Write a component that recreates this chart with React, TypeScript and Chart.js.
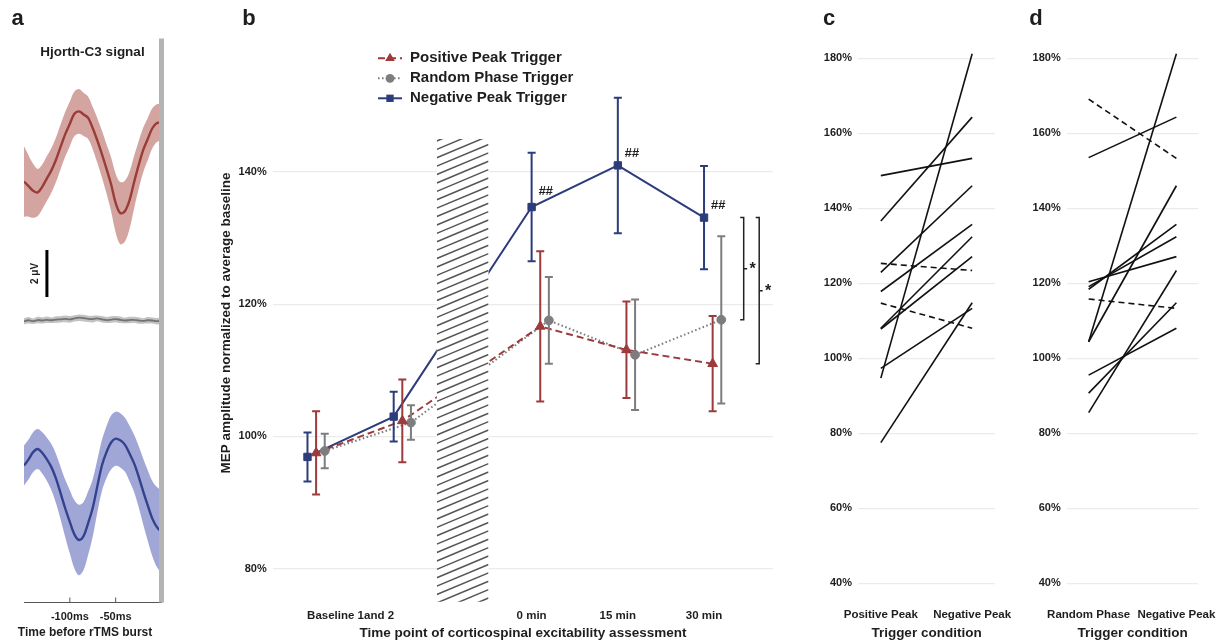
import React, { useEffect, useRef } from 'react';
import { Chart, registerables } from 'chart.js';

Chart.register(...registerables);

const W = 1225;
const H = 644;
const FONT = '"Liberation Sans", Arial, Helvetica, sans-serif';
const INK = '#1e1e1e';

// ---------------- Panel a: trigger-locked Hjorth-C3 EEG (µV) ----------------
const EEG_TIME_MS = [-150, -145, -140, -135, -130, -125, -120, -115, -110, -105, -100, -95, -90, -85, -80, -75, -70, -65, -60, -55, -50, -45, -40, -35, -30, -25, -20, -15, -10, -5, 0];
const EEG_TICKS_MS = [-100, -50];

const POS_TRIG_MEAN = [-1.09, -1.28, -1.48, -1.55, -1.3, -0.95, -0.6, -0.15, 0.4, 0.93, 1.37, 1.8, 1.9, 1.77, 1.62, 1.18, 0.66, 0.08, -0.55, -1.2, -2.0, -2.43, -2.35, -1.9, -1.13, -0.4, 0.25, 0.72, 1.18, 1.4, 1.43];
const POS_TRIG_SEM = [1.5, 1.3, 1.15, 1.0, 0.95, 0.95, 0.95, 0.95, 0.95, 0.95, 0.95, 0.95, 0.95, 0.92, 0.9, 0.9, 0.95, 1.0, 1.05, 1.15, 1.25, 1.32, 1.3, 1.22, 1.12, 1.02, 0.95, 0.9, 0.85, 0.8, 0.78];

const RAND_TRIG_MEAN = [-0.03, 0.01, -0.03, 0.02, 0.0, 0.03, 0.01, 0.04, 0.05, 0.07, 0.05, 0.09, 0.12, 0.1, 0.07, 0.06, 0.09, 0.05, 0.02, 0.04, 0.06, 0.03, 0.0, 0.02, 0.03, 0.0, -0.02, 0.01, 0.0, -0.03, -0.01];
const RAND_TRIG_SEM = [0.13, 0.14, 0.12, 0.14, 0.13, 0.14, 0.12, 0.14, 0.13, 0.14, 0.14, 0.13, 0.14, 0.14, 0.13, 0.14, 0.12, 0.14, 0.13, 0.14, 0.13, 0.14, 0.12, 0.14, 0.13, 0.14, 0.12, 0.14, 0.13, 0.14, 0.13];

const NEG_TRIG_MEAN = [1.03, 1.29, 1.6, 1.73, 1.56, 1.29, 0.95, 0.46, -0.16, -0.8, -1.37, -1.9, -2.14, -1.97, -1.42, -0.77, 0.15, 1.03, 1.6, 2.01, 2.17, 2.1, 1.92, 1.55, 1.13, 0.57, -0.07, -0.67, -1.23, -1.59, -1.8];
const NEG_TRIG_SEM = [0.85, 0.85, 0.85, 0.85, 0.88, 0.92, 0.98, 1.05, 1.12, 1.22, 1.35, 1.45, 1.5, 1.45, 1.35, 1.22, 1.12, 1.08, 1.1, 1.15, 1.15, 1.15, 1.15, 1.18, 1.22, 1.3, 1.4, 1.5, 1.6, 1.7, 1.75];

// vertical display offsets (µV) that stack the three averages
const POS_TRACE_OFFSET = 7;
const RAND_TRACE_OFFSET = 0;
const NEG_TRACE_OFFSET = -7.2;
const SCALE_BAR_UV = 2;
const SCALE_BAR_AT = { t: -125, from: 1 };

// ---------------- Panel b: MEP amplitude over time (% of baseline) ----------------
const MEP_POSITIONS = [1, 2, 3.6, 4.6, 5.6]; // Baseline 1, Baseline 2, 0, 15, 30 min
const MEP_TICK_POSITIONS = [1.5, 3.6, 4.6, 5.6];
const MEP_TICK_LABELS = ['Baseline 1and 2', '0 min', '15 min', '30 min'];
const MEP_Y_TICKS = [80, 100, 120, 140];

const POS_MEP_MEAN = [97.5, 102.35, 116.65, 113.1, 111.0];
const POS_MEP_ERR = [6.3, 6.25, 11.35, 7.3, 7.2];
const RAND_MEP_MEAN = [97.8, 102.1, 117.55, 112.35, 117.65];
const RAND_MEP_ERR = [2.6, 2.6, 6.55, 8.35, 12.65];
const NEG_MEP_MEAN = [96.9, 103.0, 134.7, 141.0, 133.1];
const NEG_MEP_ERR = [3.7, 3.75, 8.2, 10.25, 7.8];
const NEG_MEP_MARKS = ['', '', '##', '##', '##'];

const RTMS_BLOCK_X = [2.5, 3.1];
const RTMS_BLOCK_Y = [75, 145];

// ---------------- Panels c, d: single subjects (% of baseline) ----------------
const SUBJ_POS_PEAK = [94.7, 136.6, 148.7, 122.9, 117.8, 108.0, 107.8, 125.3, 77.5, 97.3, 114.7];
const SUBJ_RAND_PHASE = [104.4, 153.5, 169.1, 104.4, 118.4, 119.1, 120.4, 85.5, 90.7, 115.8, 95.5];
const SUBJ_NEG_PEAK = [181.2, 164.3, 153.3, 146.0, 135.7, 132.4, 127.1, 123.4, 114.8, 113.3, 108.0];
const SUBJ_Y_TICKS = [40, 60, 80, 100, 120, 140, 160, 180];

// ---------------- drawing helpers ----------------
type TextOpts = {
  align?: CanvasTextAlign;
  baseline?: CanvasTextBaseline;
  rotate?: number;
  style?: string;
  color?: string;
};

function drawText(ctx: CanvasRenderingContext2D, s: string, x: number, y: number, size: number, o: TextOpts = {}) {
  ctx.save();
  ctx.font = `${o.style ?? ''} bold ${size}px ${FONT}`;
  ctx.fillStyle = o.color ?? INK;
  ctx.textAlign = o.align ?? 'center';
  ctx.textBaseline = o.baseline ?? 'middle';
  ctx.translate(x, y);
  if (o.rotate) ctx.rotate(o.rotate);
  ctx.fillText(s, 0, 0);
  ctx.restore();
}

function drawMarker(ctx: CanvasRenderingContext2D, style: string, x: number, y: number, r: number, color: string) {
  ctx.save();
  ctx.fillStyle = color;
  ctx.beginPath();
  if (style === 'rect') {
    const s = r * Math.SQRT1_2;
    ctx.rect(x - s, y - s, 2 * s, 2 * s);
  } else if (style === 'triangle') {
    ctx.moveTo(x, y - r);
    ctx.lineTo(x + 0.866 * r, y + 0.5 * r);
    ctx.lineTo(x - 0.866 * r, y + 0.5 * r);
    ctx.closePath();
  } else {
    ctx.arc(x, y, r, 0, Math.PI * 2);
  }
  ctx.fill();
  ctx.restore();
}

function baseOptions(padding: { left: number; right: number; top: number; bottom: number }) {
  return {
    responsive: false,
    maintainAspectRatio: false,
    animation: false,
    devicePixelRatio: 1,
    events: [],
    layout: { padding, autoPadding: false },
    plugins: { legend: { display: false }, tooltip: { enabled: false }, title: { display: false } },
  };
}

const tickFont = (size: number) => ({ family: FONT, size, weight: 'bold' as const });

// ---------------- Panel a ----------------
function buildPanelA(): any {
  const area = { left: 24, right: 161.5, top: 38.5, bottom: 602.5 };
  const xAxisH = 24;
  const traces = [
    { mean: POS_TRIG_MEAN, sem: POS_TRIG_SEM, offset: POS_TRACE_OFFSET, band: 'rgba(170,75,65,0.5)', line: '#8a2c2c', width: 2.4 },
    { mean: RAND_TRIG_MEAN, sem: RAND_TRIG_SEM, offset: RAND_TRACE_OFFSET, band: 'rgba(120,120,120,0.45)', line: '#6f6f6f', width: 1.8 },
    { mean: NEG_TRIG_MEAN, sem: NEG_TRIG_SEM, offset: NEG_TRACE_OFFSET, band: 'rgba(65,80,175,0.5)', line: '#26326c', width: 2.4 },
  ];
  const datasets = traces.flatMap((tr) => {
    const pts = (k: number) => EEG_TIME_MS.map((t, i) => ({ x: t, y: tr.offset + tr.mean[i] + k * tr.sem[i] }));
    return [
      { data: pts(1), borderWidth: 0, pointRadius: 0, fill: '+1', backgroundColor: tr.band, tension: 0.35 },
      { data: pts(-1), borderWidth: 0, pointRadius: 0, fill: false, tension: 0.35 },
      { data: pts(0), borderColor: tr.line, borderWidth: tr.width, pointRadius: 0, fill: false, tension: 0.35 },
    ];
  });

  const overlay = {
    id: 'panelA',
    afterDatasetsDraw(chart: any) {
      const { ctx, chartArea: ca } = chart;
      const xs = chart.scales.x;
      const ys = chart.scales.y;
      // stimulation onset marker at 0 ms
      const x0 = xs.getPixelForValue(0);
      ctx.save();
      ctx.fillStyle = '#b4b4b4';
      ctx.fillRect(x0 - 2.5, ca.top, 5, ca.bottom - ca.top);
      // inward tick marks
      ctx.strokeStyle = '#555';
      ctx.lineWidth = 1;
      EEG_TICKS_MS.forEach((v) => {
        const px = xs.getPixelForValue(v);
        ctx.beginPath();
        ctx.moveTo(px, ca.bottom);
        ctx.lineTo(px, ca.bottom - 5);
        ctx.stroke();
      });
      // amplitude scale bar
      const sx = xs.getPixelForValue(SCALE_BAR_AT.t);
      ctx.strokeStyle = '#000';
      ctx.lineWidth = 3;
      ctx.beginPath();
      ctx.moveTo(sx, ys.getPixelForValue(SCALE_BAR_AT.from));
      ctx.lineTo(sx, ys.getPixelForValue(SCALE_BAR_AT.from + SCALE_BAR_UV));
      ctx.stroke();
      ctx.restore();
      const midY = (ys.getPixelForValue(SCALE_BAR_AT.from) + ys.getPixelForValue(SCALE_BAR_AT.from + SCALE_BAR_UV)) / 2;
      drawText(ctx, `${SCALE_BAR_UV} μV`, sx - 12, midY, 10, { rotate: -Math.PI / 2 });
      drawText(ctx, 'Hjorth-C3 signal', 92.5, 52.5, 13.5);
      drawText(ctx, 'Time before rTMS burst', 85, 633, 12);
      drawText(ctx, 'a', 17.5, 25, 22, { baseline: 'alphabetic' });
    },
  };

  return {
    type: 'line',
    data: { datasets },
    options: {
      ...baseOptions({ left: area.left, right: W - area.right, top: area.top, bottom: H - area.bottom - xAxisH }),
      scales: {
        x: {
          type: 'linear',
          min: -150,
          max: 0,
          afterBuildTicks: (s: any) => {
            s.ticks = EEG_TICKS_MS.map((v) => ({ value: v }));
          },
          afterFit: (s: any) => {
            s.height = xAxisH;
          },
          ticks: { callback: (v: any) => `${v}ms`, font: tickFont(11), color: INK, padding: 7.5, maxRotation: 0, autoSkip: false },
          grid: { display: false, drawTicks: false },
          border: { display: true, color: '#555', width: 1 },
        },
        y: { type: 'linear', min: -12, max: 12, display: false },
      },
    },
    plugins: [overlay],
  };
}

// ---------------- Panel b ----------------
function buildPanelB(): any {
  const area = { left: 273, right: 773, top: 39.8, bottom: 601.7 };
  const yAxisW = 40;
  const xAxisH = 24;
  const series = [
    { label: 'Positive Peak Trigger', mean: POS_MEP_MEAN, err: POS_MEP_ERR, shift: 0.1, color: '#9d3a3b', dash: [7, 4], point: 'triangle', radius: 5.6 },
    { label: 'Random Phase Trigger', mean: RAND_MEP_MEAN, err: RAND_MEP_ERR, shift: 0.2, color: '#7d7d7f', dash: [1.6, 2.4], point: 'circle', radius: 4.4 },
    { label: 'Negative Peak Trigger', mean: NEG_MEP_MEAN, err: NEG_MEP_ERR, shift: 0, color: '#2d3c7a', dash: [], point: 'rect', radius: 5.2 },
  ];
  const pts = (s: any) => MEP_POSITIONS.map((p, i) => ({ x: p + s.shift, y: s.mean[i] }));
  const lineSets = series.map((s) => ({
    data: pts(s),
    borderColor: s.color,
    borderWidth: 2,
    borderDash: s.dash,
    pointRadius: 0,
    fill: false,
    order: 2,
  }));
  const markerSets = series.map((s) => ({
    data: pts(s),
    showLine: false,
    pointStyle: s.point,
    pointRadius: s.radius,
    pointBackgroundColor: s.color,
    pointBorderColor: s.color,
    pointBorderWidth: 1,
    order: 1,
    isMarker: true,
  }));

  const brackets = [
    { from: NEG_MEP_MEAN[4], to: RAND_MEP_MEAN[4], x: 6.06, mark: '*' },
    { from: NEG_MEP_MEAN[4], to: POS_MEP_MEAN[4], x: 6.24, mark: '*' },
  ];

  const overlay = {
    id: 'panelB',
    beforeDatasetsDraw(chart: any) {
      chart.$overlayDone = false;
    },
    beforeDatasetDraw(chart: any, args: any) {
      const ds = chart.data.datasets[args.index];
      if (!ds.isMarker || chart.$overlayDone) return;
      chart.$overlayDone = true;
      const { ctx } = chart;
      const xs = chart.scales.x;
      const ys = chart.scales.y;
      // hatched rTMS block, covering the connecting lines
      const x0 = xs.getPixelForValue(RTMS_BLOCK_X[0]);
      const x1 = xs.getPixelForValue(RTMS_BLOCK_X[1]);
      const y0 = ys.getPixelForValue(RTMS_BLOCK_Y[1]);
      const y1 = ys.getPixelForValue(RTMS_BLOCK_Y[0]);
      ctx.save();
      ctx.fillStyle = '#fff';
      ctx.fillRect(x0, y0, x1 - x0, y1 - y0);
      ctx.beginPath();
      ctx.rect(x0, y0, x1 - x0, y1 - y0);
      ctx.clip();
      ctx.strokeStyle = '#555';
      ctx.lineWidth = 1.5;
      const rise = (x1 - x0) * 0.42;
      for (let yy = y0 + 2; yy < y1 + rise + 9; yy += 8.4) {
        ctx.beginPath();
        ctx.moveTo(x0, yy);
        ctx.lineTo(x1, yy - rise);
        ctx.stroke();
      }
      ctx.restore();
      // error bars
      ctx.save();
      ctx.lineWidth = 2;
      series.forEach((s) => {
        ctx.strokeStyle = s.color;
        MEP_POSITIONS.forEach((p, i) => {
          const px = xs.getPixelForValue(p + s.shift);
          const yt = ys.getPixelForValue(s.mean[i] + s.err[i]);
          const yb = ys.getPixelForValue(s.mean[i] - s.err[i]);
          ctx.beginPath();
          ctx.moveTo(px, yt);
          ctx.lineTo(px, yb);
          ctx.moveTo(px - 4, yt);
          ctx.lineTo(px + 4, yt);
          ctx.moveTo(px - 4, yb);
          ctx.lineTo(px + 4, yb);
          ctx.stroke();
        });
      });
      ctx.restore();
    },
    afterDatasetsDraw(chart: any) {
      const { ctx } = chart;
      const xs = chart.scales.x;
      const ys = chart.scales.y;
      // significance vs. baseline
      MEP_POSITIONS.forEach((p, i) => {
        if (!NEG_MEP_MARKS[i]) return;
        const px = xs.getPixelForValue(p);
        const py = ys.getPixelForValue(NEG_MEP_MEAN[i]);
        drawText(ctx, NEG_MEP_MARKS[i], px + 14, py - (i === 2 ? 16 : 12), 13, { style: 'italic' });
      });
      // between-condition brackets at 30 min
      ctx.save();
      ctx.strokeStyle = '#222';
      ctx.lineWidth = 1.5;
      brackets.forEach((b) => {
        const bx = xs.getPixelForValue(b.x);
        const ya = ys.getPixelForValue(b.from);
        const yb = ys.getPixelForValue(b.to);
        const ym = (ya + yb) / 2;
        ctx.beginPath();
        ctx.moveTo(bx - 3.5, ya);
        ctx.lineTo(bx, ya);
        ctx.lineTo(bx, yb);
        ctx.lineTo(bx - 3.5, yb);
        ctx.moveTo(bx, ym);
        ctx.lineTo(bx + 3.5, ym);
        ctx.stroke();
        drawText(ctx, b.mark, bx + 9, ym + 5, 16, { baseline: 'alphabetic' });
      });
      ctx.restore();
      // legend
      series.forEach((s, i) => {
        const ly = 58.3 + 20 * i;
        ctx.save();
        ctx.strokeStyle = s.color;
        ctx.lineWidth = 2;
        ctx.setLineDash(s.dash);
        ctx.beginPath();
        ctx.moveTo(378, ly);
        ctx.lineTo(402, ly);
        ctx.stroke();
        ctx.restore();
        drawMarker(ctx, s.point, 390, ly, s.radius, s.color);
        drawText(ctx, s.label, 410, ly, 15, { align: 'left' });
      });
      drawText(ctx, 'MEP amplitude normalized to average baseline', 226.7, 323, 13.5, { rotate: -Math.PI / 2 });
      drawText(ctx, 'Time point of corticospinal excitability assessment', 523, 633, 13.5);
      drawText(ctx, 'b', 249, 25, 22, { baseline: 'alphabetic' });
    },
  };

  return {
    type: 'line',
    data: { datasets: [...lineSets, ...markerSets] },
    options: {
      ...baseOptions({ left: area.left - yAxisW, right: W - area.right, top: area.top, bottom: H - area.bottom - xAxisH }),
      scales: {
        x: {
          type: 'linear',
          min: 0.6,
          max: 6.4,
          afterBuildTicks: (s: any) => {
            s.ticks = MEP_TICK_POSITIONS.map((v) => ({ value: v }));
          },
          afterFit: (s: any) => {
            s.height = xAxisH;
          },
          ticks: { callback: (_v: any, i: number) => MEP_TICK_LABELS[i], font: tickFont(11.5), color: INK, padding: 7, maxRotation: 0, autoSkip: false },
          grid: { display: false, drawTicks: false },
          border: { display: false },
        },
        y: {
          type: 'linear',
          min: 75,
          max: 160,
          afterBuildTicks: (s: any) => {
            s.ticks = MEP_Y_TICKS.map((v) => ({ value: v }));
          },
          afterFit: (s: any) => {
            s.width = yAxisW;
          },
          ticks: { callback: (v: any) => `${v}%`, font: tickFont(11), color: INK, padding: 6.3, autoSkip: false },
          grid: { color: '#ebebeb', lineWidth: 1.2, drawTicks: false },
          border: { display: false },
        },
      },
    },
    plugins: [overlay],
  };
}

// ---------------- Panels c, d ----------------
function buildSubjectPanel(cfg: { left: number; right: number; first: number[]; second: number[]; labels: string[]; letter: string; letterX: number }): any {
  const area = { top: 39.5, bottom: 602 };
  const yAxisW = 40;
  const xAxisH = 24;
  const datasets = cfg.first.map((a, i) => ({
    data: [
      { x: 1, y: a },
      { x: 2, y: cfg.second[i] },
    ],
    borderColor: '#111',
    borderWidth: 1.6,
    borderDash: cfg.second[i] < a ? [6, 4] : [],
    pointRadius: 0,
    fill: false,
  }));
  const overlay = {
    id: 'subjects' + cfg.letter,
    afterDatasetsDraw(chart: any) {
      const { ctx } = chart;
      const xs = chart.scales.x;
      drawText(ctx, 'Trigger condition', xs.getPixelForValue(1.5), 633, 13.5);
      drawText(ctx, cfg.letter, cfg.letterX, 25, 22, { baseline: 'alphabetic' });
    },
  };
  return {
    type: 'line',
    data: { datasets },
    options: {
      ...baseOptions({ left: cfg.left - yAxisW, right: W - cfg.right, top: area.top, bottom: H - area.bottom - xAxisH }),
      scales: {
        x: {
          type: 'linear',
          min: 0.75,
          max: 2.25,
          afterBuildTicks: (s: any) => {
            s.ticks = [{ value: 1 }, { value: 2 }];
          },
          afterFit: (s: any) => {
            s.height = xAxisH;
          },
          ticks: { callback: (_v: any, i: number) => cfg.labels[i], font: tickFont(11.5), color: INK, padding: 6, maxRotation: 0, autoSkip: false },
          grid: { display: false, drawTicks: false },
          border: { display: false },
        },
        y: {
          type: 'linear',
          min: 35,
          max: 185,
          afterBuildTicks: (s: any) => {
            s.ticks = SUBJ_Y_TICKS.map((v) => ({ value: v }));
          },
          afterFit: (s: any) => {
            s.width = yAxisW;
          },
          ticks: { callback: (v: any) => `${v}%`, font: tickFont(11), color: INK, padding: 6, autoSkip: false },
          grid: { color: '#ebebeb', lineWidth: 1.2, drawTicks: false },
          border: { display: false },
        },
      },
    },
    plugins: [overlay],
  };
}

const buildPanelC = () =>
  buildSubjectPanel({ left: 858, right: 995, first: SUBJ_POS_PEAK, second: SUBJ_NEG_PEAK, labels: ['Positive Peak', 'Negative Peak'], letter: 'c', letterX: 829 });

const buildPanelD = () =>
  buildSubjectPanel({ left: 1066.7, right: 1203.3, first: SUBJ_RAND_PHASE, second: SUBJ_NEG_PEAK, labels: ['Random Phase', 'Negative Peak'], letter: 'd', letterX: 1036 });

function ChartLayer({ build }: { build: () => any }) {
  const ref = useRef<HTMLCanvasElement>(null);
  useEffect(() => {
    const chart = new Chart(ref.current as HTMLCanvasElement, build());
    return () => chart.destroy();
  }, [build]);
  return <canvas ref={ref} width={W} height={H} style={{ position: 'absolute', left: 0, top: 0, width: W, height: H }} />;
}

export default function App() {
  return (
    <div style={{ position: 'fixed', left: 0, top: 0, width: W, height: H, background: '#fff', overflow: 'hidden' }}>
      <ChartLayer build={buildPanelA} />
      <ChartLayer build={buildPanelB} />
      <ChartLayer build={buildPanelC} />
      <ChartLayer build={buildPanelD} />
    </div>
  );
}
